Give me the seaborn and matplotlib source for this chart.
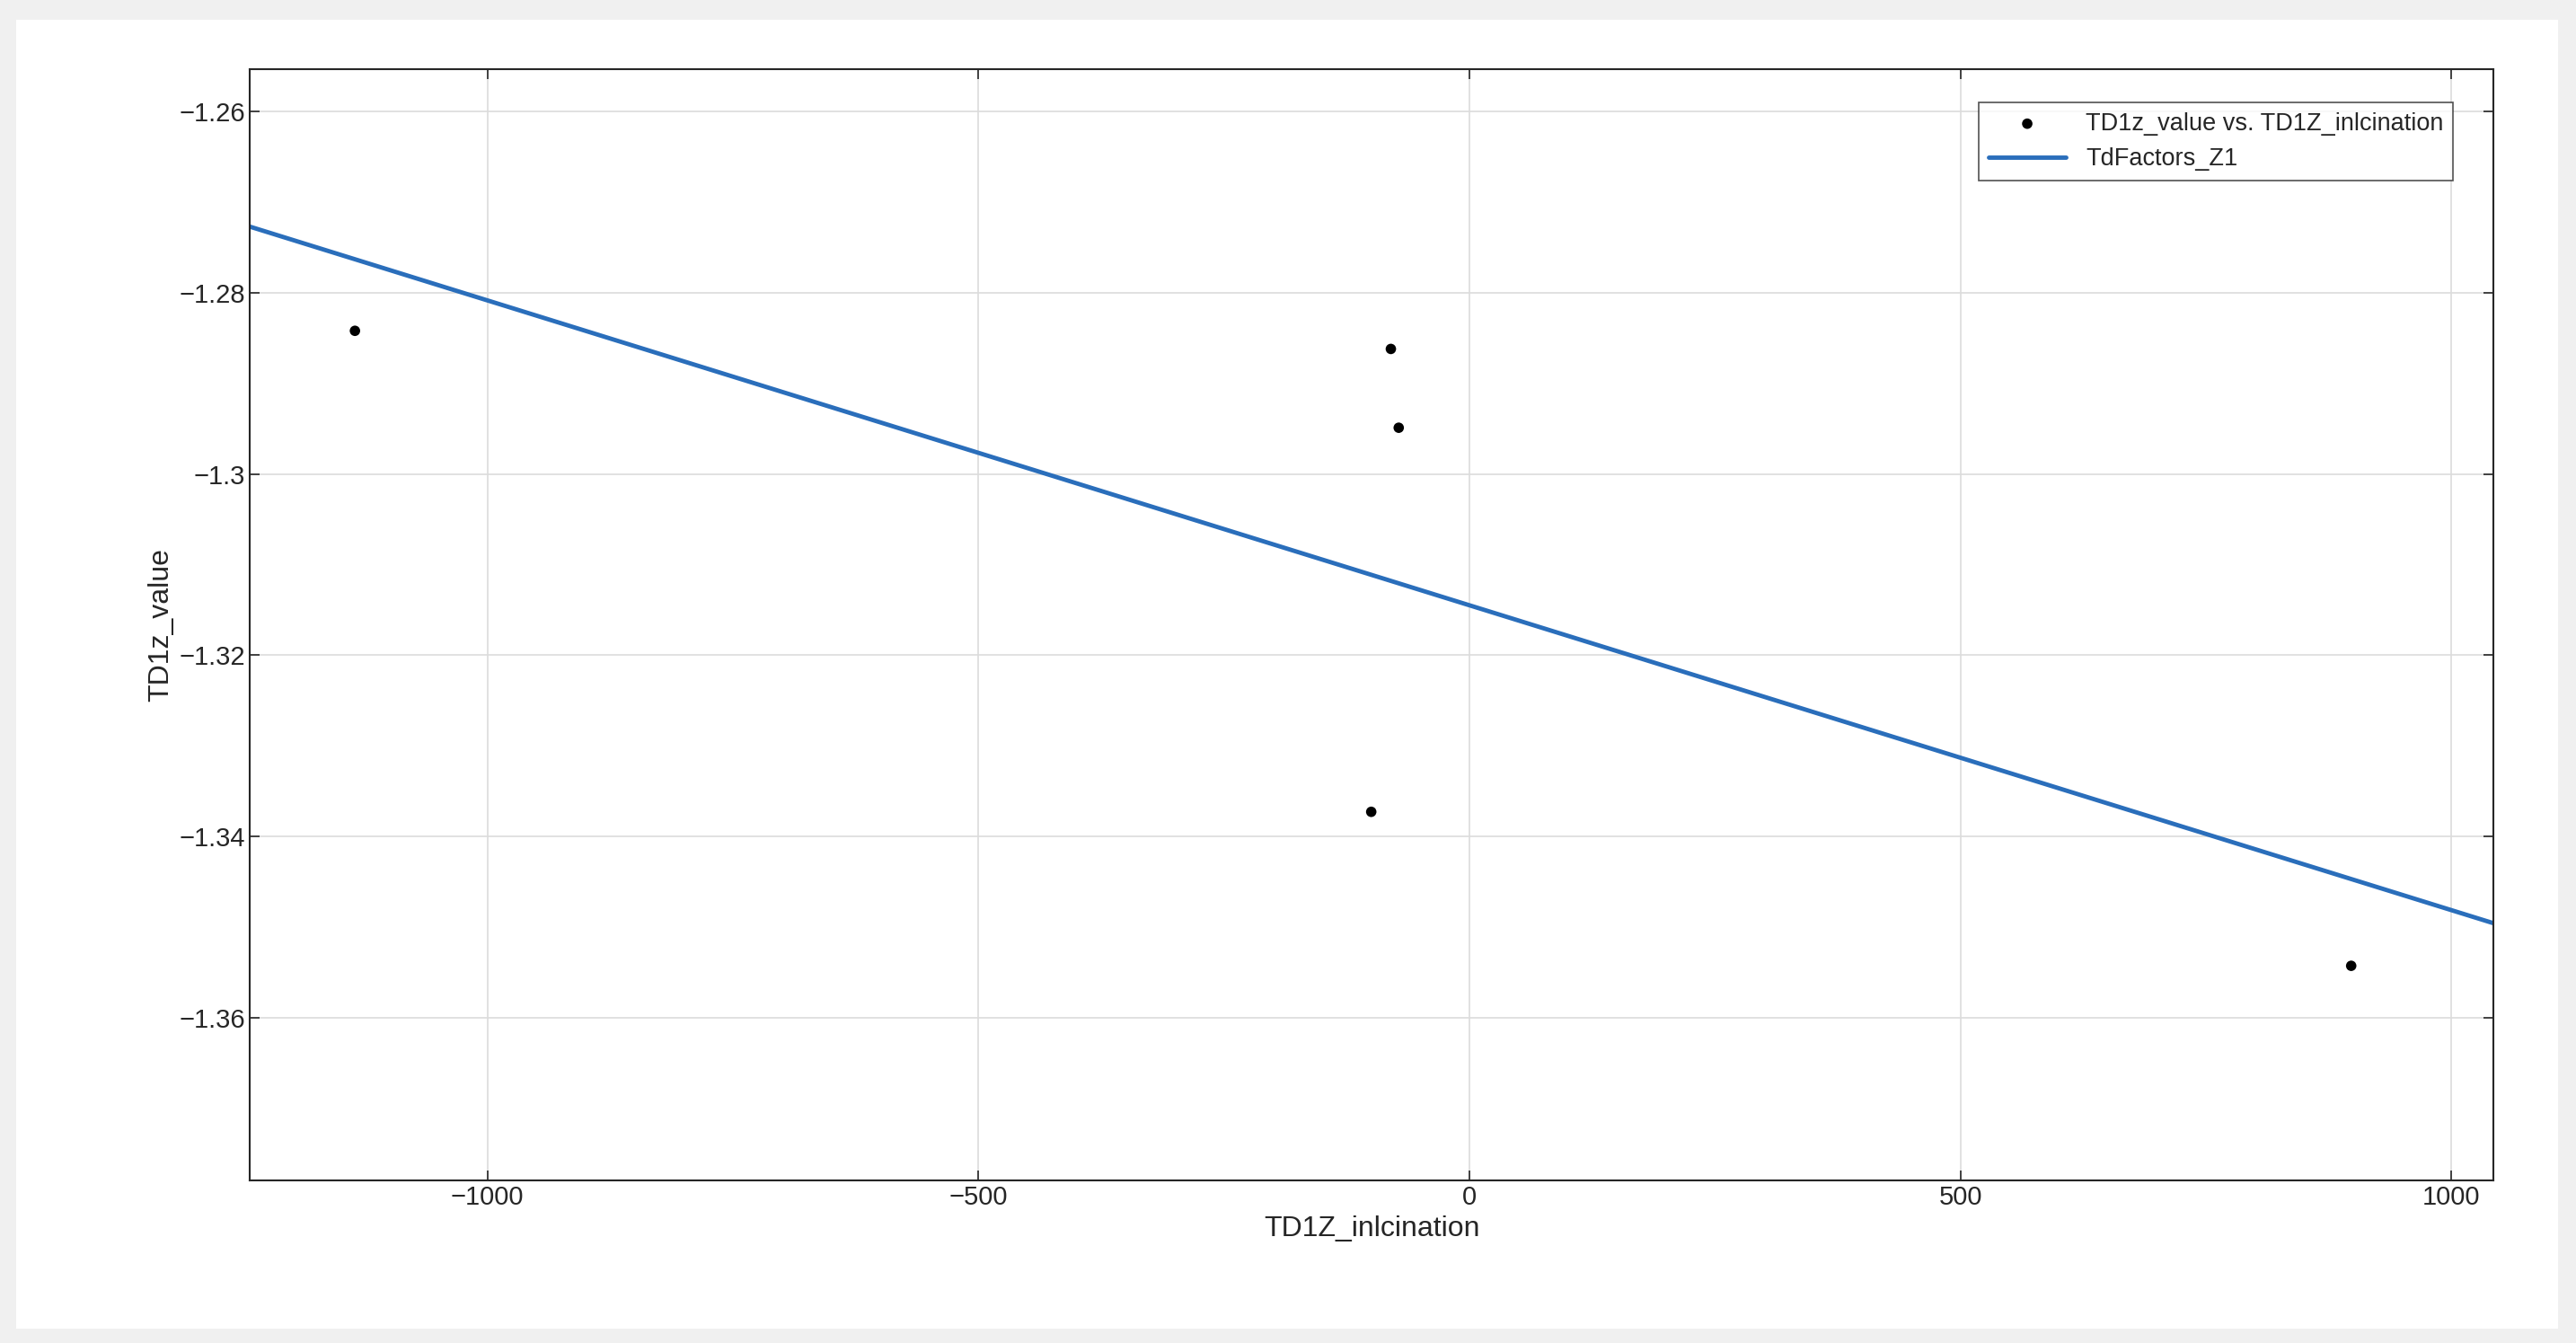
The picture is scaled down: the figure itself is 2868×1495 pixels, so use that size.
import matplotlib
matplotlib.use("Agg")
import matplotlib.pyplot as plt
import matplotlib.patches as mpatches
import pandas as pd
import seaborn as sns

# data
incl = [-1135, -80, -72, -100, 898]
td1z = [-1.2842, -1.2862, -1.2949, -1.3373, -1.3543]
fit_x = [-1242, 1043]
fit_y = [-1.2727, -1.3496]

pts = pd.DataFrame({"TD1Z_inlcination": incl, "TD1z_value": td1z})
fit = pd.DataFrame({"x": fit_x, "y": fit_y})

sns.set_style("white")
plt.rcParams['font.family'] = ['Liberation Sans', 'DejaVu Sans']

fig = plt.figure(figsize=(28.68, 14.95), dpi=100)
fig.patch.set_facecolor('#f0f0f0')
fig.patches.append(mpatches.Rectangle((0.0064, 0.011), 0.9866, 0.974,
                                      transform=fig.transFigure,
                                      facecolor='white', edgecolor='none',
                                      zorder=-10))
ax = fig.add_axes([0.097, 0.121, 0.871, 0.8276])
ax.set_zorder(5)

sns.scatterplot(data=pts, x="TD1Z_inlcination", y="TD1z_value", ax=ax,
                color='black', s=70, edgecolor='none',
                label='TD1z_value vs. TD1Z_inlcination', zorder=3)
sns.lineplot(data=fit, x="x", y="y", ax=ax, color='#2a6ebb', linewidth=3.5,
             label='TdFactors_Z1', zorder=2)

ax.set_xlim(-1242, 1043)
ax.set_ylim(-1.378, -1.2553)
ax.set_xticks([-1000, -500, 0, 500, 1000])
ax.set_xticklabels(['\u22121000', '\u2212500', '0', '500', '1000'])
yt = [-1.36, -1.34, -1.32, -1.3, -1.28, -1.26]
ax.set_yticks(yt)
ax.set_yticklabels(['\u22121.36', '\u22121.34', '\u22121.32', '\u22121.3',
                    '\u22121.28', '\u22121.26'])
ax.grid(True, color='#dcdcdc', linewidth=1.2)
for s in ax.spines.values():
    s.set_color('#262626')
    s.set_linewidth(1.5)
ax.tick_params(labelsize=21, colors='#262626', direction='in', length=8,
               top=True, right=True, bottom=True, left=True, width=1.2)
ax.set_xlabel('TD1Z_inlcination', fontsize=23, color='#262626')
ax.set_ylabel('TD1z_value', fontsize=23, color='#262626')

leg = ax.legend(loc='upper right', bbox_to_anchor=(0.982, 0.97), fontsize=19.5,
                frameon=True, fancybox=False, edgecolor='#262626',
                borderaxespad=0, handlelength=3.2)
leg.get_frame().set_linewidth(1.2)

fig.savefig('out.png', dpi=100, facecolor=fig.get_facecolor())
